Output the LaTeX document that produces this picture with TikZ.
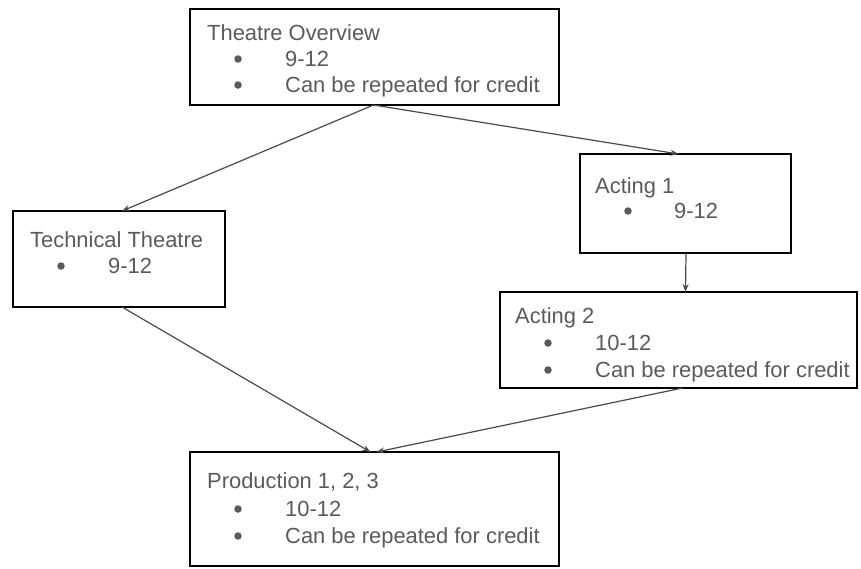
\documentclass[tikz,border=0pt]{standalone}
\usepackage{fontspec}
\setmainfont{Liberation Sans}
\usetikzlibrary{arrows.meta,calc}
\definecolor{txt}{HTML}{5A5A5A}
\definecolor{arrc}{HTML}{4A4A4A}
\tikzset{
  box/.style={draw=black, line width=2.6pt, rectangle, inner sep=0pt, outer sep=0pt, anchor=north west},
  lbl/.style={anchor=base west, inner sep=0pt, text=txt, font=\fontsize{21.9}{26}\selectfont},
  bul/.style={circle, fill=txt, inner sep=0pt, minimum size=7.5pt},
  arr/.style={draw=arrc, line width=1.2pt, -{Stealth[length=8pt,width=6pt]}},
}
\begin{document}
\begin{tikzpicture}[x=1pt,y=-1pt]
\useasboundingbox (0,0) rectangle (861,568);
% boxes
\node[box, minimum width=369pt, minimum height=96pt] (ov) at (190,9) {};
\node[box, minimum width=212pt, minimum height=96pt] (tech) at (13,211) {};
\node[box, minimum width=211pt, minimum height=99pt] (a1) at (580,154) {};
\node[box, minimum width=357pt, minimum height=96pt] (a2) at (500,292) {};
\node[box, minimum width=369pt, minimum height=114pt] (prod) at (190,452) {};
% Theatre Overview
\node[lbl] (ovt) at (207,40) {Theatre Overview};
\node[bul] (ovb1) at (238,59) {};
\node[lbl] (ov1) at (285,66) {9-12};
\node[bul] (ovb2) at (238,85) {};
\node[lbl] (ov2) at (285,92) {Can be repeated for credit};
% Technical Theatre
\node[lbl] (techt) at (30,247) {Technical Theatre};
\node[bul] (techb1) at (61,266) {};
\node[lbl] (tech1) at (108,273) {9-12};
% Acting 1
\node[lbl] (a1t) at (595,193) {Acting 1};
\node[bul] (a1b1) at (628,211) {};
\node[lbl] (a11) at (674,218) {9-12};
% Acting 2
\node[lbl] (a2t) at (515,323) {Acting 2};
\node[bul] (a2b1) at (548,343) {};
\node[lbl] (a21) at (595,350) {10-12};
\node[bul] (a2b2) at (548,370) {};
\node[lbl] (a22) at (595,377) {Can be repeated for credit};
% Production
\node[lbl] (prodt) at (207,488) {Production 1, 2, 3};
\node[bul] (prodb1) at (238,509) {};
\node[lbl] (prod1) at (285,516) {10-12};
\node[bul] (prodb2) at (238,536) {};
\node[lbl] (prod2) at (285,543) {Can be repeated for credit};
% connectors
\draw[arr] ($(ov.south)+(-1,0)$) -- ($(tech.north)+(3,0)$);
\draw[arr] ($(ov.south)+(-1,0)$) -- ($(a1.north)+(-7,0)$);
\draw[arr] ($(a1.south)+(0.5,0)$) -- ($(a2.north)+(7,0)$);
\draw[arr] ($(tech.south)+(3,0)$) -- ($(prod.north)+(-4,0)$);
\draw[arr] ($(a2.south)+(4,0)$) -- ($(prod.north)+(2,0)$);
\end{tikzpicture}
\end{document}
